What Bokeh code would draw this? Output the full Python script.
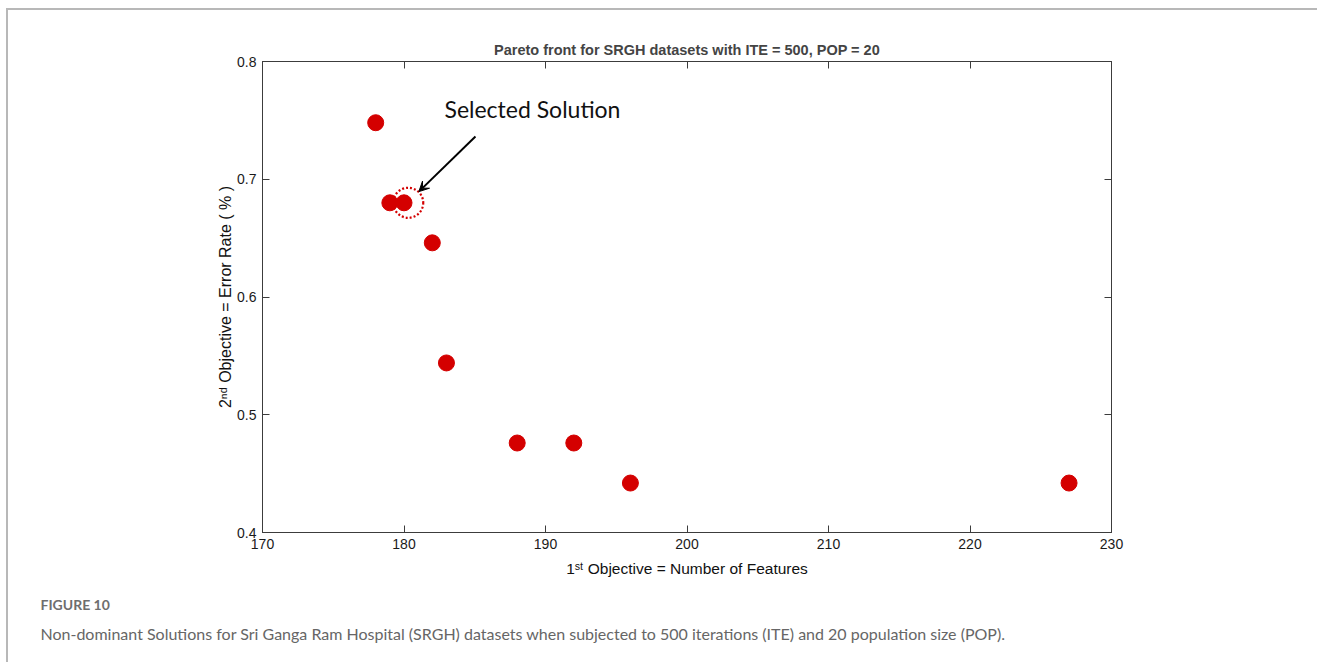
from bokeh.plotting import figure
from bokeh.models import (Range1d, FixedTicker, LinearAxis, Label, Arrow, VeeHead,
                          ColumnDataSource, Title)
from bokeh.embed import file_html
from bokeh.resources import INLINE

# ---------------- data ----------------
num_features = [178, 179, 180, 182, 183, 188, 192, 196, 227]
error_rate = [0.748, 0.680, 0.680, 0.646, 0.544, 0.476, 0.476, 0.442, 0.442]
selected_index = 2

x_ticks = [170, 180, 190, 200, 210, 220, 230]
x_tick_labels = ["170", "180", "190", "200", "210", "220", "230"]
y_ticks = [0.4, 0.5, 0.6, 0.7, 0.8]
y_tick_labels = ["0.4", "0.5", "0.6", "0.7", "0.8"]

title_text = "Pareto front for SRGH datasets with ITE = 500, POP = 20"
x_label = "1\u02e2\u1d57 Objective = Number of Features"
y_label = "2\u207f\u1d48 Objective = Error Rate ( % )"
annot_text = "Selected Solution"
fig_label = "FIGURE 10"
caption = ("Non-dominant Solutions for Sri Ganga Ram Hospital (SRGH) datasets when "
           "subjected to 500 iterations (ITE) and 20 population size (POP).")

# ---------------- layout ----------------
W, H = 1319, 664
OX, OY = 8, 10                      # canvas origin inside page (border + margin)
FL, FR, FT, FB = 262, 1111, 61, 532  # frame edges in page px

p = figure(width=W - OX, height=H - OY,
           x_range=Range1d(170, 230), y_range=Range1d(0.4, 0.8),
           output_backend="svg", toolbar_location=None,
           min_border_left=FL - OX, min_border_right=W - FR,
           min_border_top=FT - OY, min_border_bottom=H - FB)
p.styles = {"margin-left": "6px", "margin-top": "8px",
            "border-top": "2px solid #b8b8b8", "border-left": "2px solid #b8b8b8"}
p.background_fill_color = "white"
p.border_fill_color = "white"
p.outline_line_color = "#3c3c3c"
p.xgrid.visible = False
p.ygrid.visible = False

AX = "#3c3c3c"
FONT = "Liberation Sans"

bottom_ax = p.xaxis[0]
left_ax = p.yaxis[0]

def style_axis(ax, ticks, labels, show_labels=True):
    ax.ticker = FixedTicker(ticks=ticks)
    ax.major_label_overrides = {t: l for t, l in zip(ticks, labels)}
    ax.major_tick_in = 7
    ax.major_tick_out = 0
    ax.minor_tick_line_color = None
    ax.axis_line_color = AX
    ax.major_tick_line_color = AX
    ax.major_label_text_font = FONT
    ax.major_label_text_color = "#1a1a1a"
    if show_labels:
        ax.major_label_text_font_size = "14px"
        ax.major_label_standoff = 6
    else:
        ax.major_label_text_font_size = "0px"
        ax.major_label_standoff = 0
        ax.major_label_text_alpha = 0

style_axis(bottom_ax, x_ticks, x_tick_labels)
style_axis(left_ax, y_ticks, y_tick_labels)
top_ax = LinearAxis()
right_ax = LinearAxis()
style_axis(top_ax, x_ticks, x_tick_labels, False)
style_axis(right_ax, y_ticks, y_tick_labels, False)
p.add_layout(top_ax, "above")
p.add_layout(right_ax, "right")

for ax, lab, so, fs in ((bottom_ax, x_label, 8, "15.5px"), (left_ax, y_label, 0, "16px")):
    ax.axis_label = lab
    ax.axis_label_text_font = FONT
    ax.axis_label_text_font_size = fs
    ax.axis_label_text_font_style = "normal"
    ax.axis_label_text_color = "#111111"
    ax.axis_label_standoff = so

# title
p.title.text = title_text
p.title.align = "center"
p.title.text_font = FONT
p.title.text_font_size = "14.5px"
p.title.text_font_style = "bold"
p.title.standoff = 7

# caption (below panel)
p.add_layout(Title(text=fig_label, align="left", offset=40 - FL, vertical_align="bottom",
                   text_font="Lato", text_font_size="14px", text_font_style="bold",
                   text_color="#6e6e6e", text_line_height=1.0, standoff=28), "below")
cap = Title(text=caption, align="left", offset=40 - FL, vertical_align="bottom",
            text_font="Lato", text_font_size="16px", text_font_style="normal",
            text_color="#666666", text_line_height=1.0)
try:
    cap.standoff = -9
except Exception:
    cap.standoff = 0
    cap.text_line_height = 0.5
p.add_layout(cap, "below")

src = ColumnDataSource(dict(x=num_features, y=error_rate))
p.scatter("x", "y", source=src, size=16, fill_color="#d40000", line_color="#d40000")

# selected solution marker (dotted circle)
sel_x = num_features[selected_index]
sel_y = error_rate[selected_index]
p.scatter([sel_x + 0.3], [sel_y], size=30, fill_color=None, line_color="#d40000",
          line_width=2.2, line_dash="2 2")

# annotation text and arrow
p.add_layout(Label(x=444 - FL, y=FB - 108, x_units="screen", y_units="screen",
                   text=annot_text, text_font="Lato", text_font_size="23px",
                   text_baseline="middle", text_color="#111111"))
p.add_layout(Arrow(end=VeeHead(size=10, fill_color="black", line_color="black"),
                   x_start=sel_x + 5.05, y_start=sel_y + 0.0563,
                   x_end=sel_x + 1.05, y_end=sel_y + 0.0095,
                   line_color="black", line_width=2))

open("out.html", "w").write(file_html(p, INLINE))
